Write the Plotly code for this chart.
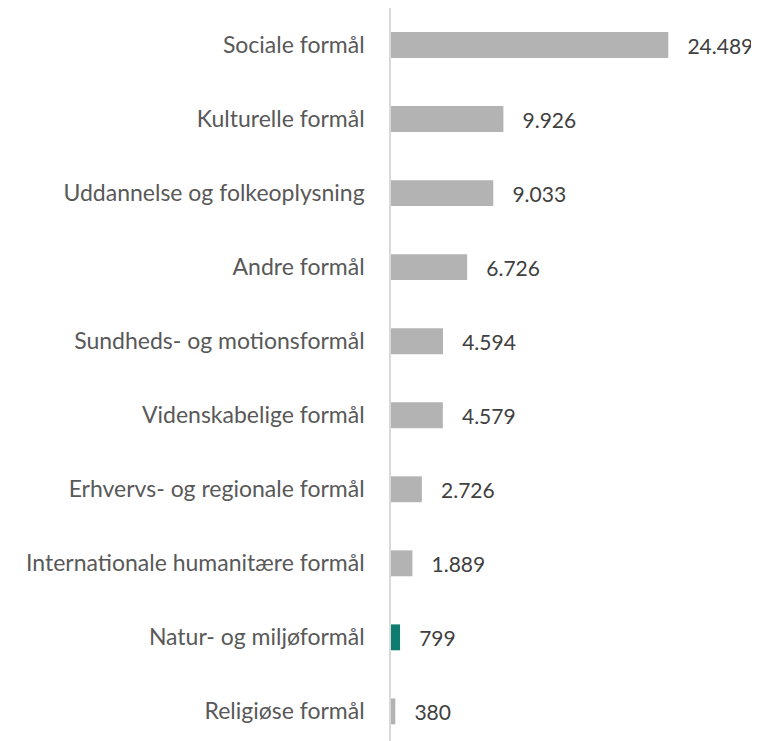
import plotly.graph_objects as go

categories = [
    "Sociale formål",
    "Kulturelle formål",
    "Uddannelse og folkeoplysning",
    "Andre formål",
    "Sundheds- og motionsformål",
    "Videnskabelige formål",
    "Erhvervs- og regionale formål",
    "Internationale humanitære formål",
    "Natur- og miljøformål",
    "Religiøse formål",
]
values = [24489, 9926, 9033, 6726, 4594, 4579, 2726, 1889, 799, 380]
highlight = "Natur- og miljøformål"

colors = ["#0e7d6f" if c == highlight else "#b3b3b3" for c in categories]
labels = ["   " + f"{v:,}".replace(",", ".") for v in values]

fig = go.Figure(
    go.Bar(
        x=values,
        y=categories,
        orientation="h",
        marker={"color": colors, "line": {"width": 0}},
        width=0.35,
        text=labels,
        textposition="outside",
        textfont={"color": "#404040", "size": 21, "family": "Lato"},
        cliponaxis=False,
        hoverinfo="skip",
    )
)

# the page body adds 8px on the left and top, so the figure is 751x733
fig.update_layout(
    width=751,
    height=733,
    margin={"l": 383, "r": 0, "t": 0, "b": 0},
    plot_bgcolor="white",
    paper_bgcolor="white",
    showlegend=False,
    font={"family": "Lato", "color": "#595959", "size": 23},
    xaxis={"visible": False, "range": [0, 32500], "fixedrange": True},
    yaxis={
        "automargin": False,
        "range": [9.4, -0.5],
        "showline": True,
        "linecolor": "#d9d9d9",
        "linewidth": 1.5,
        "showgrid": False,
        "ticks": "",
        "ticklabelstandoff": 20,
        "tickfont": {"color": "#595959", "size": 23},
    },
)

fig.write_html("out.html")
